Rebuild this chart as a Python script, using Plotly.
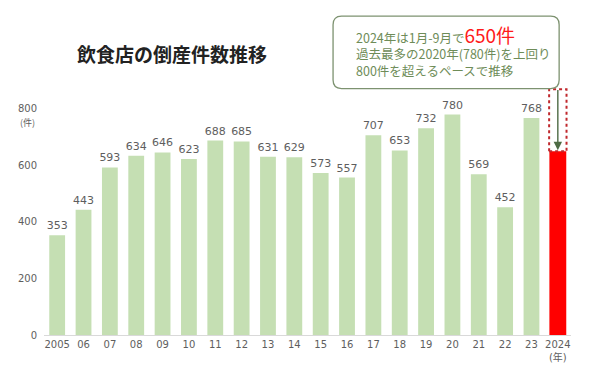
import plotly.graph_objects as go

# ---- data ----
years = ["2005", "06", "07", "08", "09", "10", "11", "12", "13", "14",
         "15", "16", "17", "18", "19", "20", "21", "22", "23", "2024<br>(年)"]
counts = [353, 443, 593, 634, 646, 623, 688, 685, 631, 629,
          573, 557, 707, 653, 732, 780, 569, 452, 768]
count_2024 = 650
ytick_vals = [0, 200, 400, 600, 800]
ytick_text = ["0", "200", "400", "600", "800"]
title_text = "飲食店の倒産件数推移"
note_lines = ["2024年は1月-9月で<span style='color:#ff1a1a;font-size:19px'>650件</span>",
              "過去最多の2020年(780件)を上回り",
              "800件を超えるペースで推移"]

FONT = "Noto Sans CJK JP"
NUMFONT = "DejaVu Sans, Noto Sans CJK JP"
GREEN = "#c5dfb3"
RED = "#ff0000"
GRAY = "#5e5e5e"
NOTE = "#6e8c58"

idx = list(range(len(years)))

fig = go.Figure()
fig.add_trace(go.Bar(
    x=idx[:-1], y=counts, marker=dict(color=GREEN, line=dict(width=0)),
    width=0.6, text=[str(v) for v in counts], textposition="outside",
    constraintext="none",
    textfont=dict(family=NUMFONT, size=11, color=GRAY), cliponaxis=False,
    hoverinfo="skip"))
fig.add_trace(go.Bar(
    x=[idx[-1]], y=[count_2024], marker=dict(color=RED, line=dict(width=0)),
    width=0.64, hoverinfo="skip"))

shapes = []
# dotted outline above 2024 bar
shapes.append(dict(type="rect", xref="x", yref="y", x0=18.67, x1=19.33,
                   y0=count_2024, y1=870,
                   line=dict(color="#c0282d", width=2, dash="dot"),
                   fillcolor="rgba(0,0,0,0)", layer="above"))
# rounded callout box
bx0, bx1, by0, by1 = 10.47, 19.05, 872, 1128
rx, ry = 0.32, 30
path = (f"M {bx0+rx},{by1} L {bx1-rx},{by1} Q {bx1},{by1} {bx1},{by1-ry} "
        f"L {bx1},{by0+ry} Q {bx1},{by0} {bx1-rx},{by0} "
        f"L {bx0+rx},{by0} Q {bx0},{by0} {bx0},{by0+ry} "
        f"L {bx0},{by1-ry} Q {bx0},{by1} {bx0+rx},{by1} Z")
shapes.append(dict(type="path", xref="x", yref="y", path=path,
                   line=dict(color="#7d9270", width=1.3),
                   fillcolor="rgba(255,255,255,0)", layer="above"))

annotations = []
annotations.append(dict(text=title_text, xref="paper", yref="paper",
                        x=(75 - 44) / 527, y=1 - (53 - 10) / 325,
                        xanchor="left", yanchor="middle", showarrow=False,
                        font=dict(family=FONT, size=19, color="#222222",
                                  weight="bold")))
annotations.append(dict(text="(件)", xref="paper", yref="y", x=0, y=800,
                        xanchor="right", yanchor="top", xshift=-7, yshift=-5,
                        showarrow=False,
                        font=dict(family=FONT, size=9, color=GRAY)))
note_y = [1064, 997, 937]
for line, yy in zip(note_lines, note_y):
    annotations.append(dict(text=line, xref="x", yref="y", x=11.26, y=yy,
                            xanchor="left", yanchor="middle", showarrow=False,
                            font=dict(family=FONT, size=12.5, color=NOTE)))
# arrow from box to 2024 bar
annotations.append(dict(text="", xref="x", yref="y", axref="x", ayref="y",
                        x=19.0, y=count_2024 + 4, ax=19.0, ay=by0,
                        showarrow=True, arrowhead=2, arrowsize=1.2,
                        arrowwidth=1.4, arrowcolor="#4e6b44"))

# page body has an 8px margin, so the figure is 8px smaller in each direction
fig.update_layout(
    width=592, height=362,
    margin=dict(l=36, r=29, t=2, b=35),
    paper_bgcolor="white", plot_bgcolor="white",
    showlegend=False, bargap=0.4,
    shapes=shapes, annotations=annotations,
    xaxis=dict(range=[-0.5, 19.5], tickmode="array", tickvals=idx,
               ticktext=years, showgrid=False, zeroline=False,
               showline=True, linecolor="#d9d9d9", linewidth=1,
               ticks="", automargin=False,
               tickfont=dict(family=NUMFONT, size=10, color=GRAY)),
    yaxis=dict(range=[0, 1150], tickmode="array", tickvals=ytick_vals,
               ticktext=ytick_text, showgrid=False, zeroline=False,
               showline=False, ticks="", ticklabelstandoff=6, automargin=False,
               tickfont=dict(family=NUMFONT, size=10, color=GRAY)),
)

fig.write_html("out.html")
